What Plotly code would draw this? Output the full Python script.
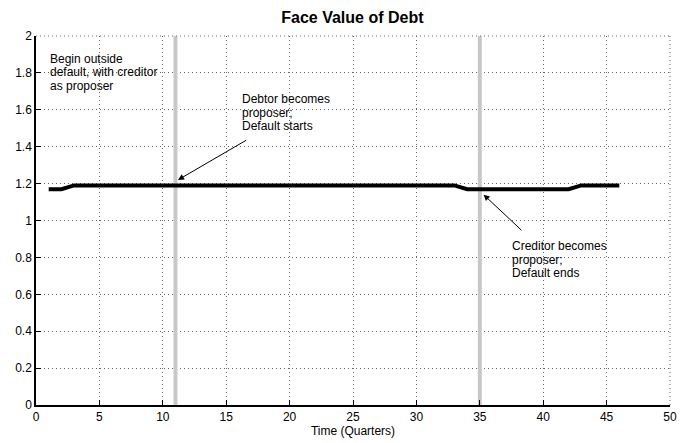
import plotly.graph_objects as go

# face value path, quarters 1..46
quarters = list(range(1, 47))
face_value = [1.17, 1.17] + [1.19] * 31 + [1.17] * 9 + [1.19] * 4

# regime switch dates
switch_dates = [11, 35]

# text blocks: (x, y of first line top, lines)
notes = [
    (0.95, 1.925, ["Begin outside", "default, with creditor", "as proposer"]),
    (16.1, 1.705, ["Debtor becomes", "proposer;", "Default starts"]),
    (37.4, 0.91, ["Creditor becomes", "proposer;", "Default ends"]),
]
# arrows: (head x, head y, tail x, tail y)
arrows = [(11.2, 1.22, 16.7, 1.44), (35.3, 1.14, 38.4, 0.94)]

FONT = "Liberation Sans, Arial, Helvetica, sans-serif"
GRID = "#666666"

fig = go.Figure()

for d in switch_dates:
    fig.add_trace(go.Scatter(
        x=[d, d], y=[0, 2], mode="lines",
        line=dict(color="#c8c8c8", width=4), showlegend=False, hoverinfo="skip",
    ))

fig.add_trace(go.Scatter(
    x=quarters, y=face_value, mode="lines",
    line=dict(color="black", width=4), showlegend=False,
))

for x, y, lines in notes:
    for i, s in enumerate(lines):
        fig.add_annotation(
            x=x, y=y, xref="x", yref="y", xanchor="left", yanchor="top", yshift=-13.5 * i,
            text=s, showarrow=False, align="left",
            font=dict(size=12, family=FONT, color="black"),
        )

for hx, hy, tx, ty in arrows:
    fig.add_annotation(
        x=hx, y=hy, ax=tx, ay=ty, xref="x", yref="y", axref="x", ayref="y",
        showarrow=True, arrowhead=2, arrowsize=1.2, arrowwidth=1, arrowcolor="black",
        text="",
    )

axis_style = dict(
    showgrid=True, gridcolor=GRID, griddash="1px,3px", gridwidth=1,
    showline=True, linecolor="black", linewidth=1.5,
    ticks="inside", ticklen=5, tickcolor="black", automargin=False,
    zeroline=False, tickfont=dict(size=12, family=FONT, color="black"),
)

# the page adds an 8px body margin, so the figure is sized to the remaining area
fig.update_layout(
    width=686, height=435,
    margin=dict(l=28, r=24, t=28, b=38),
    paper_bgcolor="white", plot_bgcolor="white",
    title=dict(text="<b>Face Value of Debt</b>", x=0.502, xanchor="center", y=0.978, yanchor="middle",
               font=dict(size=16, family=FONT, color="black")),
    xaxis=dict(range=[0, 50], dtick=5, title=dict(text="Time (Quarters)", standoff=0,
               font=dict(size=12, family=FONT, color="black")), **axis_style),
    yaxis=dict(range=[0, 2], dtick=0.2, tickformat="~g", **axis_style),
)

# dotted top and right borders
fig.add_shape(type="line", xref="paper", yref="paper", x0=0, x1=1, y0=1, y1=1,
              line=dict(color=GRID, width=1, dash="1px,3px"))
fig.add_shape(type="line", xref="paper", yref="paper", x0=1, x1=1, y0=0, y1=1,
              line=dict(color=GRID, width=1, dash="1px,3px"))

fig.write_html("out.html")
